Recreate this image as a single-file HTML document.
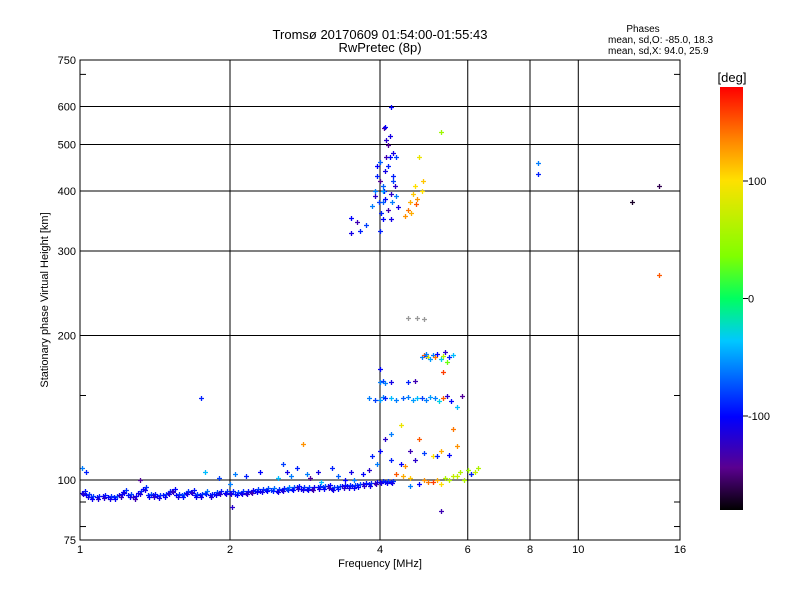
<!DOCTYPE html>
<html><head><meta charset="utf-8"><style>
body{margin:0;background:#fff;font-family:"Liberation Sans",sans-serif;}
svg text{font-family:"Liberation Sans",sans-serif;}
</style></head><body>
<svg id="c" width="800" height="600" xmlns="http://www.w3.org/2000/svg">
<defs><linearGradient id="cb" x1="0" y1="1" x2="0" y2="0">
<stop offset="0" stop-color="#000"/><stop offset="0.1" stop-color="#5a0090"/><stop offset="0.22" stop-color="#0000ff"/><stop offset="0.4" stop-color="#00c8ff"/><stop offset="0.5" stop-color="#00ff60"/><stop offset="0.6" stop-color="#80ff00"/><stop offset="0.78" stop-color="#ffe000"/><stop offset="0.88" stop-color="#ff8000"/><stop offset="1" stop-color="#ff0000"/>
</linearGradient></defs>
<text x="380" y="39" text-anchor="middle" font-size="13">Tromsø 20170609 01:54:00-01:55:43</text>
<text x="380" y="52" text-anchor="middle" font-size="13">RwPretec (8p)</text>
<text x="643" y="32" text-anchor="middle" font-size="10">Phases</text>
<text x="608" y="43" font-size="10">mean, sd,O: -85.0, 18.3</text>
<text x="608" y="54" font-size="10">mean, sd,X:  94.0, 25.9</text>
<g id="grid"></g>
<g id="marks"></g>
<rect x="80" y="60" width="600" height="480" fill="none" stroke="#000" stroke-width="1"/>
<g id="axes"></g>
<text x="380" y="567" text-anchor="middle" font-size="11">Frequency [MHz]</text>
<text transform="translate(48,300) rotate(-90)" text-anchor="middle" font-size="11">Stationary phase Virtual Height [km]</text>
<rect x="720" y="87" width="23" height="423" fill="url(#cb)"/>
<text x="732" y="82" text-anchor="middle" font-size="13">[deg]</text>
<g id="cbt"></g>
</svg>
<script>
const xTicks=[1,2,4,6,8,10,16];
const yTicks=[75,100,200,300,400,500,600,750];
const cTicks=[100,0,-100];
// baseline O trace
const baseF=[1.01,1.03,1.05,1.08,1.11,1.14,1.17,1.2,1.22,1.25,1.28,1.31,1.34,1.37,1.4,1.43,1.47,1.5,1.53,1.56,1.6,1.63,1.67,1.7,1.74,1.78,1.82,1.86,1.9,1.95,2.0,2.05,2.1,2.15,2.2,2.25,2.3,2.36,2.42,2.48,2.54,2.6,2.66,2.72,2.78,2.85,2.92,3.0,3.07,3.14,3.2,3.28,3.36,3.44,3.52,3.6,3.7,3.8,3.9,4.0,4.1,4.2];
const baseH=[94,93,92,92,92.5,92,92,93,94.5,93,92,94,96,93,93,92.5,93,94,95,93,93,94,94.5,93,93,94,93,93.5,94,94,94,93.5,94,94,94.5,95,95,95.5,95.5,95,95.5,96,96,96.5,96,96,96,96.5,96.5,97,96,96.5,97,97,97,97.5,98,98,98.5,99,99,99];
const baseP=[-110,-100,-95,-105,-110,-100,-90,-115,-100,-95,-120,-105,-100,-90,-110,-100,-95,-105,-115,-100,-85,-100,-110,-95,-100,-80,-105,-95,-110,-100,-105,-90,-100,-110,-120,-95,-100,-90,-80,-100,-105,-75,-90,-110,-100,-95,-120,-100,-90,-115,-100,-85,-110,-100,-95,-90,-110,-100,-120,-105,-95,-100];
// [freq MHz, height km, phase deg]
const scatterLow=[[1.01,106,-60],[1.03,104,-90],[1.32,100,-140],[1.75,148,-90],[1.78,104,-40],[1.9,101,-80],[2.0,98,-60],[2.02,88,-120],[2.05,103,-60],[2.15,102,-90],[2.3,104,-100],[2.5,101,-40],[2.55,108,-80],[2.6,104,-110],[2.65,102,-60],[2.72,106,-90],[2.8,119,130],[2.86,103,-60],[2.9,101,-140],[3.0,104,-110],[3.05,99,-40],[3.2,106,-90],[3.3,102,-70],[3.4,100,-100],[3.5,104,-110],[3.55,100,-60],[3.7,103,-100],[3.8,105,-120],[3.85,112,-90],[3.95,108,-60],[4.0,115,-100],[4.1,122,-120],[4.2,110,-90]];
const fLayerO=[[3.5,352,-100],[3.5,327,-110],[3.6,345,-130],[3.65,330,-90],[3.75,340,-80],[3.85,372,-60],[3.9,390,-120],[3.95,450,-100],[3.98,380,-80],[4.0,420,-140],[4.02,360,-90],[4.05,410,-70],[4.08,400,-100],[4.1,440,-110],[4.12,470,-130],[4.15,500,-140],[4.18,520,-110],[4.2,600,-100],[4.22,380,-60],[4.25,430,-90],[4.28,410,-120],[4.3,470,-80],[4.05,400,-50],[4.1,385,-100],[4.15,365,-130],[4.2,350,-110],[3.95,430,-90],[4.0,460,-70],[4.08,540,-140],[4.12,510,-120],[4.18,470,-100],[4.25,420,-80],[4.3,390,-60],[4.35,370,-110],[4.0,330,-90],[4.05,350,-100],[4.2,395,-120],[4.1,545,-100],[3.9,400,-60],[4.15,450,-90],[4.25,480,-110],[4.05,380,-70]];
const fLayerX=[[4.5,355,130],[4.55,365,140],[4.6,380,120],[4.65,395,110],[4.7,410,100],[4.72,375,150],[4.75,385,130],[4.8,470,90],[4.85,400,100],[4.88,420,110],[4.62,360,120],[5.3,530,50]];
const layer150=[[3.8,148,-60],[3.9,147,-80],[4.0,147,-50],[4.05,149,-60],[4.1,148,-90],[4.2,148,-40],[4.3,147,-60],[4.45,148,-70],[4.55,149,-60],[4.65,147,-50],[4.75,148,-40],[4.85,148,-80],[4.95,147,-60],[5.05,149,-50],[5.15,148,-60],[5.25,146,-30],[5.35,148,150],[5.45,150,-120],[5.55,146,-100],[5.7,142,-40],[5.85,150,-140],[4.0,160,-60],[4.05,161,-80],[4.1,159,-60],[4.2,160,-110],[4.0,170,-100],[4.55,160,-90],[4.7,161,-130]];
const layer180=[[4.85,180,-60],[4.9,182,150],[4.95,181,-80],[5.0,180,80],[5.05,179,-50],[5.1,182,-60],[5.15,180,140],[5.2,183,-100],[5.3,179,-30],[5.35,181,60],[5.4,185,-120],[5.45,176,30],[5.5,180,-90],[5.6,182,-40],[4.95,183,-60],[5.35,168,160]];
const eLayer=[[4.3,103,150],[4.45,102,120],[4.6,101,110],[4.9,100,130],[5.1,99,160],[5.3,98,100],[5.5,100,60],[5.7,102,70],[4.6,97,-60],[4.8,98,-100],[5.0,99,140],[5.2,100,120],[5.4,101,60],[5.6,102,70],[5.8,104,60],[6.0,105,50],[6.1,103,60],[6.2,104,70],[6.3,106,60],[4.4,108,-100],[4.5,107,130],[4.7,110,-120],[4.9,114,-80],[5.1,112,100],[5.3,115,120],[5.5,113,-100],[5.7,118,130],[5.9,100,60],[6.1,103,-90],[4.2,125,-60],[4.4,130,90],[4.6,115,-130],[4.8,122,150],[5.2,112,-90],[5.6,128,140]];
const isolated=[[8.3,457,-60],[8.3,435,-90],[12.8,380,-170],[14.5,410,-160],[14.5,268,150],[5.3,86,-130]];
const greyEchoes=[[4.55,218],[4.75,218],[4.9,217]];
const X=f=>80+150*Math.log2(f);
const Y=h=>540-480*Math.log10(h/75);
const C=p=>87+(180-p)/360*423;
const NS='http://www.w3.org/2000/svg';
function mk(t,a,parent){const e=document.createElementNS(NS,t);for(const k in a)e.setAttribute(k,a[k]);parent.appendChild(e);return e;}
const stops=[[-180,[0,0,0]],[-144,[90,0,144]],[-100,[0,0,255]],[-36,[0,200,255]],[0,[0,255,96]],[36,[128,255,0]],[100,[255,224,0]],[137,[255,128,0]],[180,[255,0,0]]];
function col(p){for(let i=1;i<stops.length;i++){if(p<=stops[i][0]){const a=stops[i-1],b=stops[i],t=(p-a[0])/(b[0]-a[0]);return 'rgb('+a[1].map((v,j)=>Math.round(v+(b[1][j]-v)*t)).join(',')+')';}}return 'rgb(255,0,0)';}
const g=document.getElementById('grid'),ax=document.getElementById('axes'),m=document.getElementById('marks'),cb=document.getElementById('cbt');
xTicks.forEach(f=>{const x=X(f);
 if(f>1&&f<16){const l=mk('line',{x1:x,y1:60,x2:x,y2:540,stroke:'#000','stroke-width':1},g);
 
 }
 const t=mk('text',{x:x,y:553,'text-anchor':'middle','font-size':11},ax);t.textContent=f;
 
 
});
yTicks.forEach(h=>{const y=Y(h);
 if(h>75&&h<750){const l=mk('line',{x1:80,y1:y,x2:680,y2:y,stroke:'#000','stroke-width':1},g);
 
 }
 const t=mk('text',{x:76,y:y+4,'text-anchor':'end','font-size':11},ax);t.textContent=h;
 
 
});
[80,90,150,700].forEach(h=>{const y=Y(h);mk('line',{x1:80,y1:y,x2:86,y2:y,stroke:'#000'},ax);mk('line',{x1:674,y1:y,x2:680,y2:y,stroke:'#000'},ax);});
cTicks.forEach(p=>{const y=C(p);mk('line',{x1:743,y1:y,x2:748,y2:y,stroke:'#000'},cb);
 const t=mk('text',{x:748,y:y+4,'font-size':11},cb);t.textContent=p;
 
 });
function plusC(f,h,c){const x=Math.round(X(f))+0.5,y=Math.round(Y(h))+0.5;
 const e=mk('path',{d:`M${x-2.5},${y}h5M${x},${y-2.5}v5`,stroke:c,'stroke-width':1.3,fill:'none'},m);
 
 }
function plus(f,h,p){plusC(f,h,col(p));}
baseF.forEach((f,i)=>{plus(f,baseH[i],baseP[i]);plus(f*1.012,baseH[i]+0.7,baseP[i]+15);plus(f*1.006,baseH[i]-0.6,baseP[i]-10);});
[scatterLow,fLayerO,fLayerX,layer150,layer180,eLayer,isolated].forEach(arr=>arr.forEach(d=>plus(d[0],d[1],d[2])));
greyEchoes.forEach(d=>plusC(d[0],d[1],'#999'));
</script>
</body></html>
